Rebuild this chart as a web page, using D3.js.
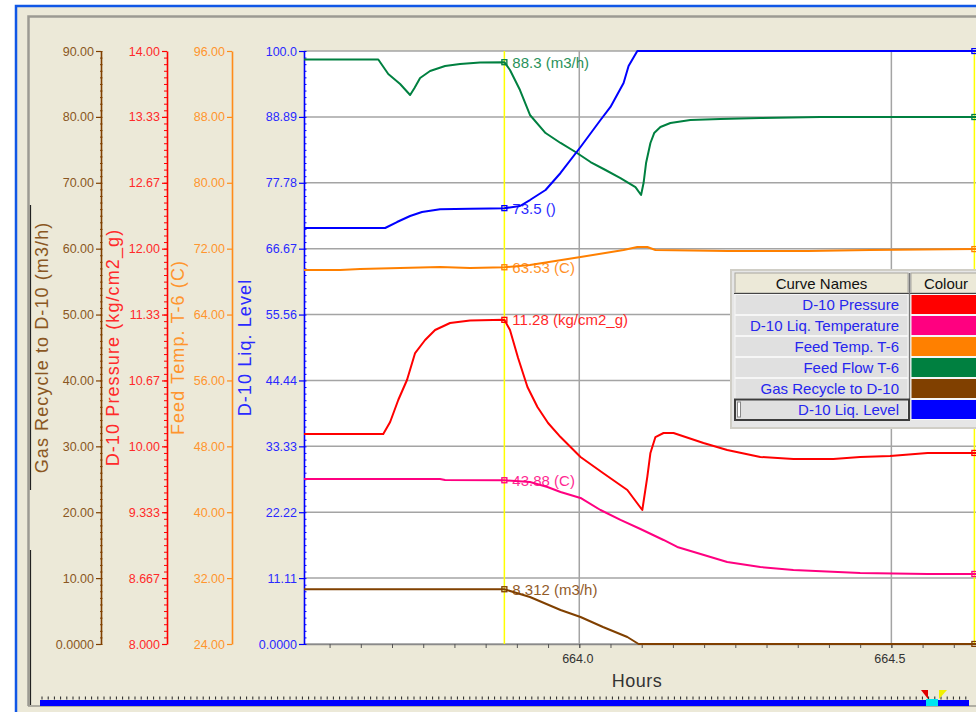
<!DOCTYPE html>
<html>
<head>
<meta charset="utf-8">
<script src="https://cdn.jsdelivr.net/npm/d3@7"></script>
<style>
  html, body { margin: 0; padding: 0; background: #fff; }
  svg text { font-family: "Liberation Sans", Arial, sans-serif; }
</style>
</head>
<body>
<div id="chart"></div>
<script>
// ---- data (hours, value) ----
const hourStart = 663.559;
const hourEnd = 664.650;
const cursorHours = [663.880, 664.633];

const pressureHours = [663.559, 663.686, 663.697, 663.710, 663.724, 663.737, 663.753, 663.769, 663.793, 663.825, 663.880, 663.889, 663.902, 663.917, 663.933, 663.950, 663.970, 664.002, 664.038, 664.077, 664.101, 664.109, 664.114, 664.122, 664.135, 664.151, 664.199, 664.237, 664.290, 664.343, 664.407, 664.450, 664.498, 664.558, 664.650];
const pressureValues = [10.125, 10.125, 10.246, 10.469, 10.671, 10.944, 11.076, 11.177, 11.248, 11.273, 11.28, 11.177, 10.894, 10.600, 10.398, 10.236, 10.094, 9.892, 9.730, 9.558, 9.356, 9.690, 9.933, 10.094, 10.135, 10.135, 10.034, 9.963, 9.892, 9.872, 9.872, 9.892, 9.902, 9.933, 9.933];

const liqTempHours = [663.559, 663.777, 663.785, 663.880, 663.921, 663.949, 663.970, 664.002, 664.034, 664.066, 664.098, 664.135, 664.157, 664.189, 664.237, 664.290, 664.343, 664.450, 664.558, 664.650];
const liqTempValues = [44.03, 44.03, 43.91, 43.88, 43.67, 43.06, 42.46, 41.73, 40.27, 39.06, 37.96, 36.63, 35.78, 35.05, 33.96, 33.35, 32.99, 32.62, 32.50, 32.50];

const feedTempHours = [663.559, 663.617, 663.649, 663.713, 663.777, 663.825, 663.880, 663.921, 664.002, 664.071, 664.093, 664.109, 664.122, 664.237, 664.367, 664.466, 664.650];
const feedTempValues = [63.07, 63.07, 63.24, 63.41, 63.58, 63.41, 63.53, 63.91, 65.26, 66.44, 66.95, 66.95, 66.44, 66.27, 66.27, 66.44, 66.61];

const flowHours = [663.559, 663.678, 663.694, 663.713, 663.729, 663.736, 663.745, 663.761, 663.785, 663.809, 663.841, 663.880, 663.889, 663.905, 663.921, 663.946, 663.970, 663.994, 664.018, 664.042, 664.066, 664.090, 664.099, 664.103, 664.107, 664.114, 664.120, 664.130, 664.146, 664.178, 664.226, 664.290, 664.386, 664.650];
const flowValues = [88.71, 88.71, 86.51, 84.99, 83.32, 84.38, 85.90, 86.96, 87.72, 88.03, 88.25, 88.3, 87.12, 84.08, 80.29, 77.55, 76.04, 74.67, 73.15, 71.94, 70.72, 69.35, 68.14, 69.96, 73.0, 76.04, 77.55, 78.47, 79.07, 79.53, 79.68, 79.83, 79.98, 79.98];

const gasHours = [663.559, 663.880, 663.921, 663.970, 664.002, 664.038, 664.077, 664.095, 664.650];
const gasValues = [8.312, 8.312, 7.13, 5.16, 4.10, 2.58, 1.06, 0, 0];

const levelHours = [663.559, 663.689, 663.708, 663.729, 663.748, 663.777, 663.825, 663.857, 663.880, 663.905, 663.921, 663.946, 663.970, 664.002, 664.034, 664.050, 664.071, 664.079, 664.093, 664.650];
const levelValues = [70.15, 70.15, 71.16, 72.18, 72.85, 73.3, 73.4, 73.45, 73.5, 73.86, 74.87, 76.56, 79.43, 83.81, 88.36, 90.56, 94.60, 97.47, 100, 100];

const curveNames = ["D-10 Pressure", "D-10 Liq. Temperature", "Feed Temp. T-6", "Feed Flow T-6", "Gas Recycle to D-10", "D-10 Liq. Level"];
const curveColours = ["#FF0000", "#FF0080", "#FF8000", "#008040", "#804000", "#0000FF"];
const cursorReadouts = ["11.28 (kg/cm2_g)", "43.88 (C)", "63.53 (C)", "88.3 (m3/h)", "8.312 (m3/h)", "73.5 ()"];

// axis ranges (left to right)
const gasDomain = [0, 90];
const pressureDomain = [8, 14];
const tempDomain = [24, 96];
const levelDomain = [0, 100];
const hourTicks = [664.0, 664.5];

// ---- layout ----
const W = 976, H = 712;
const plot = { left: 304, right: 985, top: 51, bottom: 644 };

const svg = d3.select("#chart").append("svg")
    .attr("width", W)
    .attr("height", H);

// window frame
svg.append("rect").attr("x", 0).attr("y", 0).attr("width", W).attr("height", H).attr("fill", "#fff");
svg.append("rect")
    .attr("x", 16).attr("y", 6).attr("width", W + 20).attr("height", H + 20)
    .attr("fill", "#ECE9D8").attr("stroke", "#1057E6").attr("stroke-width", 2.5);
svg.append("path")
    .attr("d", "M28.5,706 L28.5,16.5 L990,16.5")
    .attr("fill", "none").attr("stroke", "#9C9A92").attr("stroke-width", 2.5);
svg.append("line").attr("x1", 28).attr("x2", W).attr("y1", 706).attr("y2", 706)
    .attr("stroke", "#9C9A92").attr("stroke-width", 1.5);
svg.append("line").attr("x1", 30.5).attr("x2", 30.5).attr("y1", 205).attr("y2", 490)
    .attr("stroke", "#222").attr("stroke-width", 1.2);
svg.append("line").attr("x1", 30.5).attr("x2", 30.5).attr("y1", 550).attr("y2", 705)
    .attr("stroke", "#222").attr("stroke-width", 1.2);

// scales
const x = d3.scaleLinear().domain([hourStart, hourEnd]).range([plot.left, plot.right]);
const yGas = d3.scaleLinear().domain(gasDomain).range([plot.bottom, plot.top]);
const yPressure = d3.scaleLinear().domain(pressureDomain).range([plot.bottom, plot.top]);
const yTemp = d3.scaleLinear().domain(tempDomain).range([plot.bottom, plot.top]);
const yLevel = d3.scaleLinear().domain(levelDomain).range([plot.bottom, plot.top]);

const fmt = v => Math.abs(v) < 1e-9 ? "0.0000" : d3.format(".4r")(v);
const nineSteps = dom => d3.range(10).map(i => dom[0] + i * (dom[1] - dom[0]) / 9);
const ninetySteps = dom => d3.range(91).map(i => dom[0] + i * (dom[1] - dom[0]) / 90);

// plot background
svg.append("rect")
    .attr("x", plot.left).attr("y", plot.top)
    .attr("width", plot.right - plot.left).attr("height", plot.bottom - plot.top)
    .attr("fill", "#fff");

// grid
const grid = svg.append("g");
grid.selectAll(".hg").data(nineSteps(levelDomain)).join("line")
    .attr("x1", plot.left).attr("x2", plot.right)
    .attr("y1", d => yLevel(d)).attr("y2", d => yLevel(d))
    .attr("stroke", "#A4A4A4").attr("stroke-width", 1.5);
grid.selectAll(".vg").data(hourTicks).join("line")
    .attr("x1", d => x(d)).attr("x2", d => x(d))
    .attr("y1", plot.top).attr("y2", plot.bottom)
    .attr("stroke", "#A4A4A4").attr("stroke-width", 1.5);

// x axis
const xAxisG = svg.append("g")
    .attr("transform", "translate(0," + plot.bottom + ")")
    .call(d3.axisBottom(x).tickValues(d3.range(663.6, 664.66, 0.05)).tickFormat("").tickSize(4).tickSizeOuter(0));
xAxisG.select(".domain").attr("stroke", "#8A8A8A").attr("stroke-width", 1.5);
xAxisG.selectAll(".tick line").attr("stroke", "#555");

const xLabG = svg.append("g")
    .attr("transform", "translate(0," + plot.bottom + ")")
    .call(d3.axisBottom(x).tickValues(hourTicks).tickFormat(d3.format(".1f")).tickSize(4).tickPadding(6));
xLabG.select(".domain").remove();
xLabG.selectAll(".tick line").attr("stroke", "#555");
xLabG.selectAll(".tick text").attr("font-size", 12.5).attr("fill", "#333").attr("dx", -2)
    .style("font-family", "Liberation Sans, Arial, sans-serif");

svg.append("text")
    .attr("x", 637).attr("y", 687)
    .attr("text-anchor", "middle")
    .attr("font-size", 18).attr("fill", "#333")
    .style("letter-spacing", "0.5px")
    .text("Hours");

// y axes
const axes = [
    { scale: yGas, dom: gasDomain, x: 101, line: "#804000", text: "#8A5722", minor: "cross", title: "Gas Recycle to D-10 (m3/h)", tx: 48 },
    { scale: yPressure, dom: pressureDomain, x: 167, line: "#FF0000", text: "#FF2A2A", minor: "left", title: "D-10 Pressure (kg/cm2_g)", tx: 119 },
    { scale: yTemp, dom: tempDomain, x: 232, line: "#FF8C1A", text: "#FF952E", minor: "none", title: "Feed Temp. T-6 (C)", tx: 184 },
    { scale: yLevel, dom: levelDomain, x: 304, line: "#0000FF", text: "#2A2AFF", minor: "right", title: "D-10 Liq. Level", tx: 251 }
];

axes.forEach(a => {
    if (a.minor !== "none") {
        const minorAxis = a.minor === "right" ? d3.axisRight(a.scale) : d3.axisLeft(a.scale);
        const mg = svg.append("g")
            .attr("transform", "translate(" + (a.minor === "cross" ? a.x + 1.5 : a.x) + ",0)")
            .call(minorAxis.tickValues(ninetySteps(a.dom)).tickFormat("").tickSize(a.minor === "left" ? 3 : 2.5).tickSizeOuter(0));
        mg.select(".domain").remove();
        mg.selectAll(".tick line").attr("stroke", a.line).attr("stroke-width", 1);
    }
    const g = svg.append("g")
        .attr("transform", "translate(" + a.x + ",0)")
        .call(d3.axisLeft(a.scale).tickValues(nineSteps(a.dom)).tickFormat(fmt).tickSize(5).tickPadding(2).tickSizeOuter(0));
    g.select(".domain").attr("stroke", a.line).attr("stroke-width", 1.6);
    g.selectAll(".tick line").attr("stroke", a.line).attr("stroke-width", 1.2);
    g.selectAll(".tick text")
        .attr("fill", a.text).attr("font-size", 12.5)
        .style("font-family", "Liberation Sans, Arial, sans-serif");

    svg.append("text")
        .attr("transform", "translate(" + a.tx + "," + ((plot.top + plot.bottom) / 2) + ") rotate(-90)")
        .attr("text-anchor", "middle")
        .attr("font-size", 18)
        .style("letter-spacing", "1.1px")
        .attr("fill", a.text)
        .text(a.title);
});

// series
svg.append("clipPath").attr("id", "plotClip")
    .append("rect").attr("x", plot.left).attr("y", plot.top - 3)
    .attr("width", plot.right - plot.left).attr("height", plot.bottom - plot.top + 6);

const series = [
    { hours: pressureHours, values: pressureValues, scale: yPressure },
    { hours: liqTempHours, values: liqTempValues, scale: yTemp },
    { hours: feedTempHours, values: feedTempValues, scale: yLevel },
    { hours: flowHours, values: flowValues, scale: yGas },
    { hours: gasHours, values: gasValues, scale: yGas },
    { hours: levelHours, values: levelValues, scale: yLevel }
];
series.forEach((s, i) => {
    s.color = curveColours[i];
    s.points = s.hours.map((h, j) => [h, s.values[j]]);
});

// cursors
svg.selectAll(".cursor").data(cursorHours).join("line")
    .attr("x1", d => x(d)).attr("x2", d => x(d))
    .attr("y1", plot.top).attr("y2", plot.bottom)
    .attr("stroke", "#FFFF00").attr("stroke-width", 1.5);

const lines = svg.append("g").attr("clip-path", "url(#plotClip)");
series.forEach(s => {
    const line = d3.line().x(d => x(d[0])).y(d => s.scale(d[1]));
    lines.append("path")
        .datum(s.points)
        .attr("d", line)
        .attr("fill", "none")
        .attr("stroke", s.color)
        .attr("stroke-width", 2)
        .attr("stroke-linejoin", "round");
});

// markers and readouts at cursors
const valueAt = (s, h) => {
    const i = d3.bisectLeft(s.hours, h);
    if (i <= 0) return s.values[0];
    if (i >= s.hours.length) return s.values[s.values.length - 1];
    const t = (h - s.hours[i - 1]) / (s.hours[i] - s.hours[i - 1]);
    return s.values[i - 1] + t * (s.values[i] - s.values[i - 1]);
};
series.forEach((s, i) => {
    cursorHours.forEach(h => {
        const cy = s.scale(valueAt(s, h));
        lines.append("rect")
            .attr("x", x(h) - 2.5).attr("y", cy - 2.5)
            .attr("width", 5).attr("height", 5)
            .attr("fill", "none").attr("stroke", s.color).attr("stroke-width", 1.3);
    });
    svg.append("text")
        .attr("x", x(cursorHours[0]) + 8)
        .attr("y", s.scale(valueAt(s, cursorHours[0])))
        .attr("dy", "0.36em")
        .attr("font-size", 15)
        .attr("fill", s.color)
        .attr("opacity", 0.85)
        .text(cursorReadouts[i]);
});

// legend table
const leg = svg.append("g");
leg.append("rect").attr("x", 731).attr("y", 270).attr("width", 260).attr("height", 158)
    .attr("fill", "#E6E6E6").attr("stroke", "#D0CEC6").attr("stroke-width", 2);
// header
[[735, 173, "Curve Names"], [911, 80, "Colour"]].forEach(c => {
    leg.append("rect").attr("x", c[0]).attr("y", 273).attr("width", c[1]).attr("height", 20)
        .attr("fill", "#ECE9D8").attr("stroke", "#A8A69E").attr("stroke-width", 1);
    leg.append("text").attr("x", c[0] + (c[2] === "Colour" ? 35 : c[1] / 2)).attr("y", 289)
        .attr("text-anchor", "middle").attr("font-size", 15).attr("fill", "#111").text(c[2]);
});
leg.append("line").attr("x1", 734).attr("x2", 990).attr("y1", 293.5).attr("y2", 293.5)
    .attr("stroke", "#444").attr("stroke-width", 1.2);
leg.append("line").attr("x1", 909.5).attr("x2", 909.5).attr("y1", 273).attr("y2", 420)
    .attr("stroke", "#777").attr("stroke-width", 1.5);

const rowY = i => 294 + i * 21;
leg.selectAll(".nameCell").data(curveNames).join("rect")
    .attr("x", 735).attr("y", (d, i) => rowY(i) + 0.5)
    .attr("width", 173).attr("height", 20)
    .attr("fill", "#E0E0E0").attr("stroke", "#F6F6F6").attr("stroke-width", 1);
leg.selectAll(".colourCell").data(curveColours).join("rect")
    .attr("x", 911).attr("y", (d, i) => rowY(i) + 0.5)
    .attr("width", 80).attr("height", 20)
    .attr("fill", d => d).attr("stroke", "#F6F6F6").attr("stroke-width", 1);
leg.selectAll(".nameText").data(curveNames).join("text")
    .attr("x", 899).attr("y", (d, i) => rowY(i) + 16)
    .attr("text-anchor", "end").attr("font-size", 15).attr("fill", "#2626EE")
    .text(d => d);
// selected row
leg.append("rect").attr("x", 735).attr("y", rowY(5) + 0.5).attr("width", 174).attr("height", 20.5)
    .attr("fill", "none").attr("stroke", "#3C3C3C").attr("stroke-width", 2);
leg.append("rect").attr("x", 737.5).attr("y", rowY(5) + 3).attr("width", 3).attr("height", 15)
    .attr("fill", "#fff").attr("stroke", "#888").attr("stroke-width", 1);

// bottom scroll bar
svg.append("rect").attr("x", 40).attr("y", 700).attr("width", 929).attr("height", 6).attr("fill", "#0000FF");
svg.selectAll(".sbt").data(d3.range(42, 968, 6.2)).join("line")
    .attr("x1", d => d).attr("x2", d => d).attr("y1", 696.5).attr("y2", 699.5)
    .attr("stroke", "#222").attr("stroke-width", 1);
svg.append("rect").attr("x", 926).attr("y", 699).attr("width", 12).attr("height", 7).attr("fill", "#00E5F0");
svg.append("path").attr("d", "M921,690 L928,690 L928,699 Z").attr("fill", "#E00000");
svg.append("path").attr("d", "M939,699 L939,690 L947,690 Z").attr("fill", "#F0F000");
</script>
</body>
</html>
